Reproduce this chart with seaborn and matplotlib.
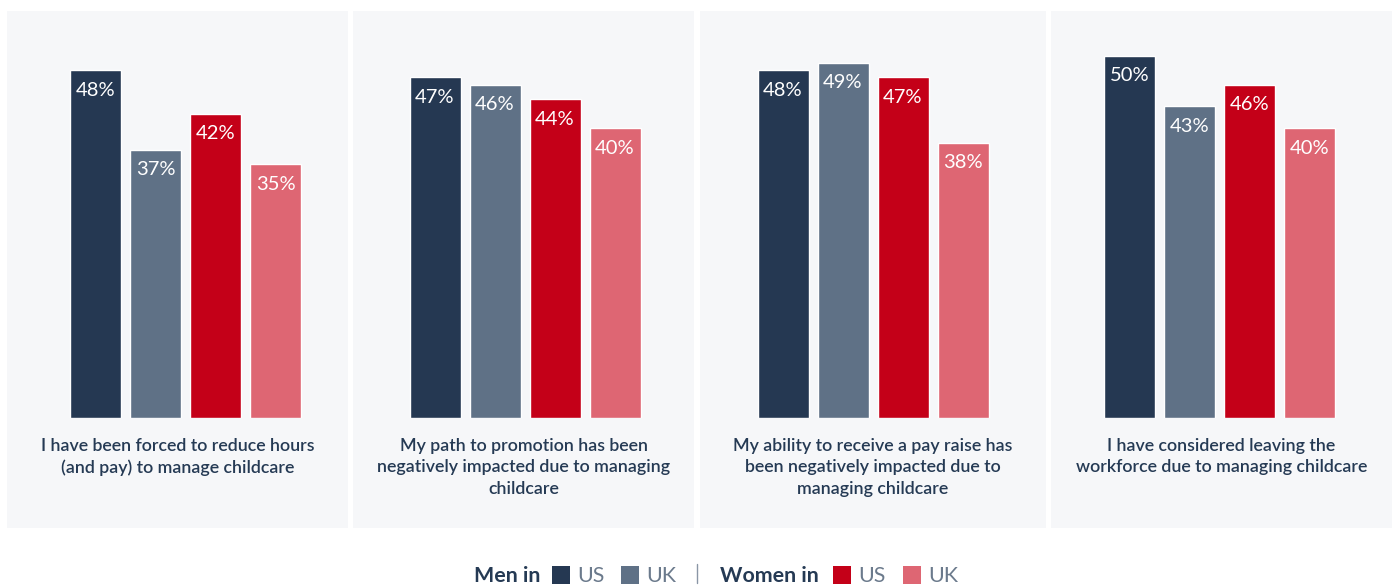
import matplotlib
matplotlib.use("Agg")
import matplotlib.pyplot as plt
import matplotlib.patches as mpatches
import pandas as pd
import seaborn as sns

# Datos
statements = [
    "I have been forced to reduce hours\n(and pay) to manage childcare",
    "My path to promotion has been\nnegatively impacted due to managing\nchildcare",
    "My ability to receive a pay raise has\nbeen negatively impacted due to\nmanaging childcare",
    "I have considered leaving the\nworkforce due to managing childcare",
]
groups = ["Men US", "Men UK", "Women US", "Women UK"]
men_us = [48, 47, 48, 50]
men_uk = [37, 46, 49, 43]
women_us = [42, 44, 47, 46]
women_uk = [35, 40, 38, 40]

colors = ["#253852", "#5f7186", "#c40018", "#de6673"]
navy = "#253a54"
panel_bg = "#f6f7f9"

rows = []
for i, s in enumerate(statements):
    for g, vals in zip(groups, [men_us, men_uk, women_us, women_uk]):
        rows.append({"statement": s, "group": g, "value": vals[i]})
df = pd.DataFrame(rows)

sns.set_style("white")
plt.rcParams["font.family"] = ["Lato", "DejaVu Sans"]

W, H = 1397, 585
fig = plt.figure(figsize=(W / 100, H / 100), dpi=100)

# Paneles (en pixeles)
panels = [(7, 348), (353, 694), (700, 1046), (1051, 1392)]
shifts = [8, 1.5, 0, -2]  # desplazamiento de las barras dentro del panel
top_px, base_px, bottom_px = 11, 418, 528
px_per_unit = 300  # ancho de una categoria

for i, (x0, x1) in enumerate(panels):
    fig.patches.append(mpatches.Rectangle(
        (x0 / W, 1 - bottom_px / H), (x1 - x0) / W, (bottom_px - top_px) / H,
        transform=fig.transFigure, facecolor=panel_bg, edgecolor="none", zorder=-5))

    ax = fig.add_axes([x0 / W, 1 - base_px / H, (x1 - x0) / W, (base_px - top_px) / H])
    ax.set_zorder(2)
    ax.patch.set_alpha(0)
    sub = df[df["statement"] == statements[i]]
    sns.barplot(data=sub, x="statement", y="value", hue="group", hue_order=groups,
                palette=colors, width=0.8, gap=0.15, saturation=1, legend=False, ax=ax)
    half = (x1 - x0) / 2 / px_per_unit
    off = shifts[i] / px_per_unit
    ax.set_xlim(-half - off, half - off)
    ax.set_ylim(0, (base_px - top_px) / 7.25)
    ax.set_xticks([])
    ax.set_yticks([])
    ax.set_xlabel("")
    ax.set_ylabel("")
    sns.despine(ax=ax, left=True, bottom=True)

    for p in ax.patches:
        h = p.get_height()
        ax.annotate(f"{h:.0f}%", (p.get_x() + p.get_width() / 2, h),
                    xytext=(0, -20), textcoords="offset pixels",
                    ha="center", va="center", color="white", fontsize=14.5)

    fig.text((x0 + x1) / 2 / W, 1 - 438 / H, statements[i], ha="center", va="top",
             fontsize=12.8, fontweight="semibold", color=navy, linespacing=1.42)

# Leyenda
ly = 1 - 576 / H
fig.text(474 / W, ly, "Men in", fontsize=15.4, fontweight="bold", color=navy, va="center")
fig.text(720 / W, ly, "Women in", fontsize=15.4, fontweight="bold", color=navy, va="center")
legend_items = [(552, colors[0], "US"), (621, colors[1], "UK"),
                (833, colors[2], "US"), (903, colors[3], "UK")]
for x, c, t in legend_items:
    fig.patches.append(mpatches.Rectangle((x / W, 1 - 584 / H), 18 / W, 18 / H,
                                          transform=fig.transFigure, facecolor=c,
                                          edgecolor="none"))
    fig.text((x + 25) / W, ly, t, fontsize=15.4, color="#6b7a8c", va="center")
fig.add_artist(plt.Line2D([697 / W, 697 / W], [1 - 583 / H, 1 - 564 / H],
                          color="#8a96a6", lw=1))

fig.savefig("out.png", dpi=100, facecolor="white")
